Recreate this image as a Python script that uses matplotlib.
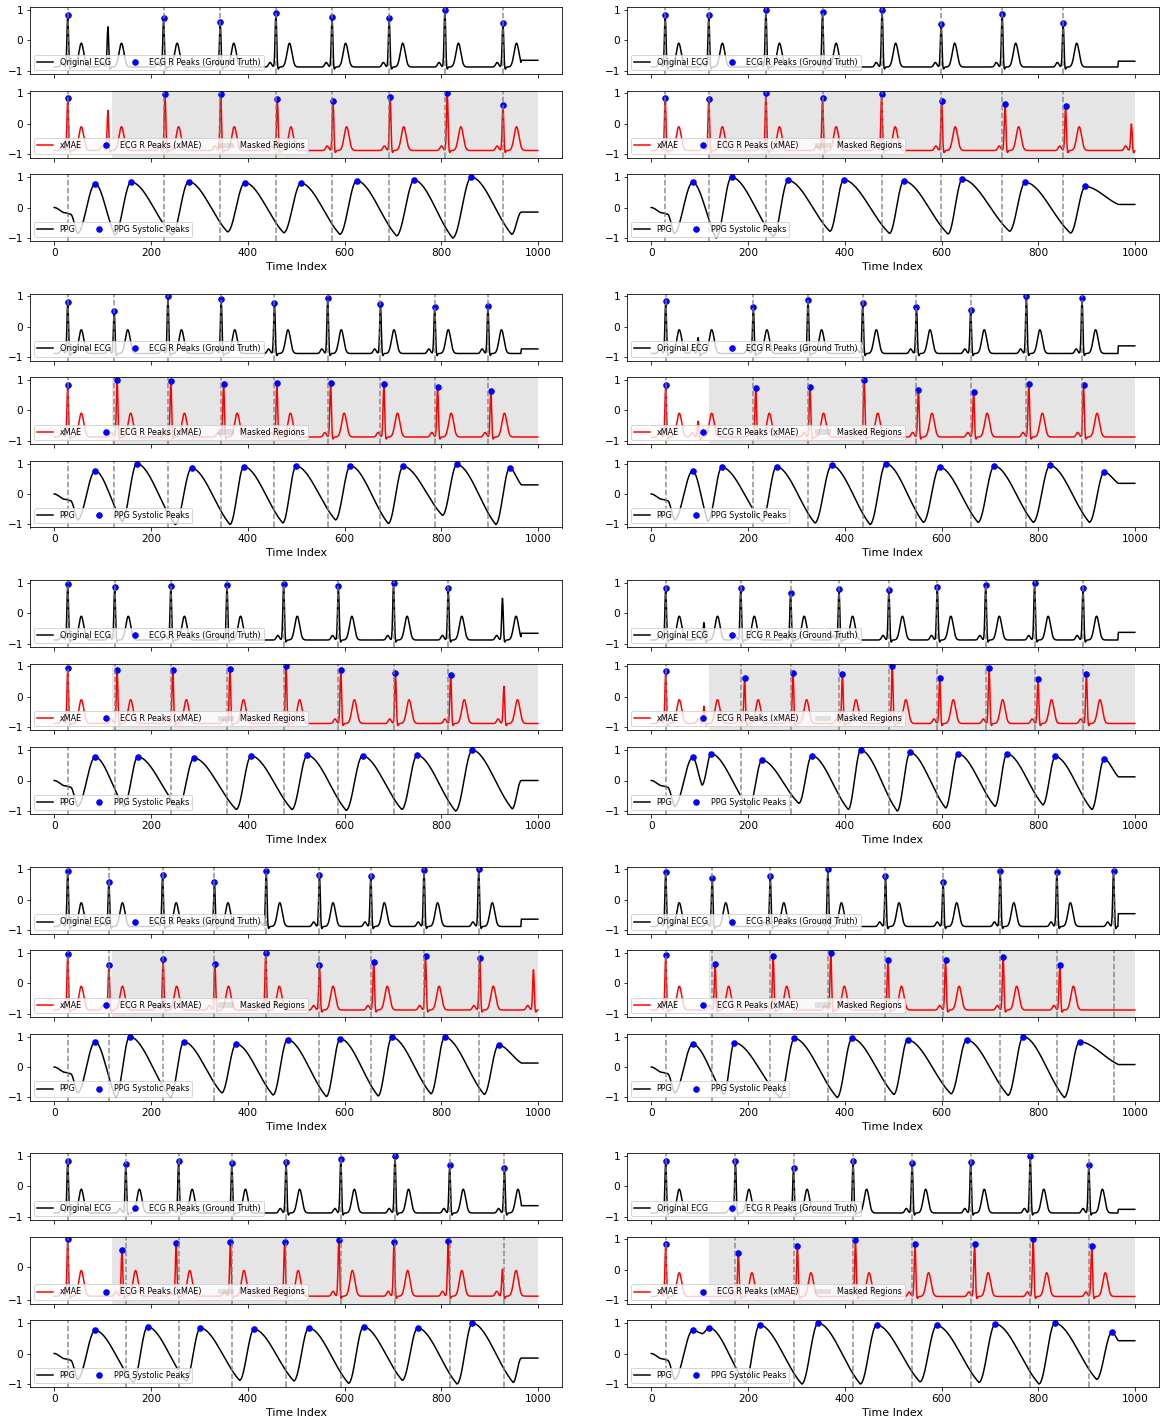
import numpy as np
import matplotlib.pyplot as plt

# blocks ordered row by row: left, right
ecg_gt_pos = [
    [28, 226, 343, 458, 574, 692, 807, 927],
    [29, 119, 237, 354, 477, 599, 725, 851],
    [28, 124, 235, 345, 455, 565, 674, 786, 896],
    [30, 211, 324, 437, 548, 660, 775, 890],
    [28, 125, 241, 357, 474, 587, 701, 814],
    [30, 185, 288, 388, 491, 591, 691, 792, 892],
    [28, 113, 224, 331, 438, 548, 654, 764, 877],
    [30, 126, 246, 365, 484, 603, 721, 838, 955],
    [28, 148, 257, 367, 479, 592, 704, 817, 930],
    [30, 174, 294, 417, 539, 660, 783, 904],
]
ecg_gt_h = [
    [0.85, 0.73, 0.59, 0.90, 0.76, 0.72, 1.0, 0.58],
    [0.85, 0.82, 1.0, 0.92, 1.0, 0.53, 0.88, 0.56],
    [0.83, 0.52, 1.0, 0.92, 0.78, 0.94, 0.74, 0.65, 0.70],
    [0.84, 0.67, 0.90, 0.77, 0.65, 0.54, 1.0, 0.95],
    [0.96, 0.86, 0.89, 0.92, 0.97, 0.90, 1.0, 0.82],
    [0.85, 0.85, 0.68, 0.80, 0.76, 0.86, 0.94, 1.0, 0.84],
    [0.95, 0.60, 0.83, 0.60, 0.96, 0.83, 0.80, 0.98, 1.0],
    [0.92, 0.73, 0.77, 1.0, 0.78, 0.60, 0.95, 0.93, 0.95],
    [0.84, 0.72, 0.82, 0.76, 0.80, 0.90, 1.0, 0.70, 0.59],
    [0.84, 0.84, 0.60, 0.84, 0.78, 0.80, 1.0, 0.70],
]
# beats in the ECG that have no R peak marker
ecg_extra_pos = [[111], [], [], [97], [926], [109], [], [], [], []]
ecg_extra_h = [[0.45], [], [], [-0.35], [0.5], [-0.3], [], [], [], []]
ecg_end = [-0.65, -0.68, -0.72, -0.62, -0.65, -0.62, -0.63, -0.45, -0.63, -0.75]

xmae_pos = [
    [28, 229, 344, 461, 576, 694, 812, 927],
    [29, 119, 237, 354, 476, 600, 731, 856],
    [28, 130, 241, 350, 460, 571, 681, 792, 902],
    [30, 216, 328, 440, 552, 666, 780, 893],
    [28, 130, 245, 363, 479, 592, 705, 819],
    [30, 193, 293, 395, 498, 596, 698, 799, 899],
    [28, 113, 225, 332, 437, 548, 660, 767, 879],
    [30, 132, 252, 371, 489, 608, 727, 844],
    [28, 140, 252, 364, 476, 588, 702, 814],
    [30, 180, 302, 422, 545, 668, 789, 910],
]
xmae_h = [
    [0.85, 0.97, 0.97, 0.82, 0.74, 0.87, 1.0, 0.62],
    [0.85, 0.82, 1.0, 0.85, 0.98, 0.76, 0.67, 0.58],
    [0.84, 1.0, 0.97, 0.87, 0.91, 0.90, 0.87, 0.77, 0.64],
    [0.84, 0.73, 0.77, 1.0, 0.68, 0.62, 0.88, 0.85],
    [0.96, 0.88, 0.88, 0.93, 1.0, 0.87, 0.78, 0.73],
    [0.86, 0.61, 0.77, 0.76, 1.0, 0.61, 0.94, 0.58, 0.74],
    [0.95, 0.60, 0.79, 0.65, 1.0, 0.61, 0.71, 0.91, 0.85],
    [0.92, 0.64, 0.91, 1.0, 0.77, 0.76, 0.88, 0.59],
    [0.85, 0.54, 0.74, 0.76, 0.78, 0.82, 0.78, 0.80],
    [0.84, 0.56, 0.79, 0.97, 0.84, 0.86, 1.0, 0.77],
]
xmae_extra_pos = [[111], [992], [], [97], [929], [109], [990], [], [926], []]
xmae_extra_h = [[0.45], [0.0], [], [-0.35], [0.35], [-0.3], [0.45], [], [-0.05], []]
mask_start, mask_end = 120, 1000

ppg_pos = [
    [85, 159, 278, 394, 510, 625, 744, 862],
    [86, 166, 283, 398, 522, 643, 773, 897],
    [85, 171, 284, 392, 500, 612, 721, 832, 941],
    [86, 146, 259, 373, 485, 596, 709, 824, 936],
    [85, 173, 289, 407, 523, 637, 750, 864],
    [86, 124, 229, 332, 433, 535, 634, 735, 835, 936],
    [85, 156, 268, 376, 482, 591, 698, 807, 918],
    [86, 172, 296, 415, 530, 652, 769, 885],
    [85, 193, 302, 413, 526, 639, 751, 864],
    [86, 120, 224, 345, 466, 590, 711, 834, 952],
]
ppg_h = [
    [0.78, 0.84, 0.85, 0.82, 0.80, 0.88, 0.90, 1.0],
    [0.83, 1.0, 0.89, 0.91, 0.87, 0.93, 0.83, 0.69],
    [0.76, 1.0, 0.85, 0.90, 0.92, 0.93, 0.91, 0.97, 0.85],
    [0.76, 0.88, 0.90, 0.94, 1.0, 0.88, 0.92, 0.94, 0.72],
    [0.77, 0.78, 0.74, 0.81, 0.83, 0.81, 0.83, 1.0],
    [0.76, 0.88, 0.67, 0.82, 1.0, 0.92, 0.88, 0.88, 0.79, 0.70],
    [0.83, 1.0, 0.83, 0.76, 0.90, 0.93, 0.98, 0.98, 0.72],
    [0.75, 0.80, 0.94, 0.94, 0.89, 0.89, 1.0, 0.83],
    [0.76, 0.88, 0.84, 0.80, 0.84, 0.88, 0.84, 1.0],
    [0.76, 0.85, 0.94, 1.0, 0.94, 0.92, 0.97, 1.0, 0.70],
]
ppg_trough_pos = [
    [48, 125, 243, 358, 474, 590, 707, 823, 945],
    [47, 134, 252, 369, 492, 613, 740, 866],
    [48, 140, 250, 363, 472, 581, 690, 802, 912],
    [48, 117, 229, 338, 452, 562, 675, 789, 905],
    [48, 144, 256, 376, 491, 603, 718, 829, 946],
    [48, 105, 202, 305, 407, 508, 608, 710, 809, 910],
    [48, 127, 240, 346, 452, 562, 669, 778, 888],
    [48, 150, 266, 384, 501, 619, 737, 853],
    [48, 163, 272, 383, 495, 608, 719, 832, 948],
    [48, 105, 194, 311, 432, 555, 677, 801, 920],
]
ppg_trough_val = [
    [-0.85, -0.9, -0.9, -0.8, -0.83, -0.88, -0.93, -1.0, -0.88],
    [-0.85, -1.0, -0.95, -0.78, -0.85, -0.87, -0.78, -0.84],
    [-0.85, -0.9, -1.0, -1.0, -0.95, -0.85, -0.97, -0.7, -1.0],
    [-0.85, -0.9, -0.9, -0.95, -1.0, -0.93, -0.93, -0.93, -0.93],
    [-0.85, -0.85, -0.9, -0.95, -0.95, -0.98, -0.95, -1.0, -0.93],
    [-0.85, -0.15, -0.9, -0.75, -0.95, -1.0, -0.9, -0.85, -0.8, -0.95],
    [-0.85, -1.0, -1.0, -0.85, -0.92, -0.97, -0.95, -0.88, -0.9],
    [-0.85, -0.9, -1.0, -1.0, -0.9, -0.88, -0.93, -1.0],
    [-0.85, -0.95, -0.9, -0.88, -0.9, -0.98, -0.88, -1.0, -0.95],
    [-0.85, 0.65, -0.95, -1.0, -1.0, -0.93, -0.95, -1.0, -0.85],
]
ppg_end = [-0.15, 0.10, 0.30, 0.35, 0.0, 0.12, 0.13, 0.08, -0.15, 0.42]

t = np.arange(1000)


def ecg_wave(pos, h, end=None):
    base = -0.87
    y = np.full(len(t), base)
    for p, a in zip(pos, h):
        y += (a - base) * np.exp(-0.5 * ((t - p) / 1.6) ** 2)
        y -= 0.1 * np.exp(-0.5 * ((t - p - 4) / 1.5) ** 2)
        y += 0.78 * np.exp(-0.5 * ((t - p - 28) / 5.0) ** 2)
        y += 0.15 * np.exp(-0.5 * ((t - p + 12) / 3.0) ** 2)
    if end is not None:
        y[965:] = end
    return y


def ppg_wave(pk, pk_h, tr, tr_v, end):
    kx = np.array([0, 20, 34] + tr + pk + [965, 999], dtype=float)
    ky = np.array([0.0, -0.17, -0.22] + tr_v + pk_h + [end, end])
    o = np.argsort(kx)
    kx, ky = kx[o], ky[o]
    i = np.clip(np.searchsorted(kx, t, side='right') - 1, 0, len(kx) - 2)
    s = (t - kx[i]) / (kx[i + 1] - kx[i])
    rise = (1 - np.cos(np.pi * s)) / 2
    # slow, near linear fall after a systolic peak
    fall = 0.5 * s ** 1.6 + 0.5 * rise
    g = np.where(ky[i + 1] < ky[i], fall, rise)
    return ky[i] + (ky[i + 1] - ky[i]) * g


def set_y(ax, y):
    hi = max(y.max(), -1)
    lo = -1.0
    pad = 0.05 * (hi - lo)
    ax.set_yticks([v for v in (-1, 0, 1) if v <= hi + pad])
    ax.set_ylim(lo - pad, hi + pad)


W, H = 1160, 1419
fig = plt.figure(figsize=(W / 72, H / 72), dpi=72)

for b in range(10):
    row, col = divmod(b, 2)
    x0 = 30 if col == 0 else 627
    axs = []
    for k in range(3):
        top = 7 + 286.5 * row + 83.5 * k
        axs.append(fig.add_axes([x0 / W, 1 - (top + 67) / H, 532 / W, 67 / H]))
    ax1, ax2, ax3 = axs

    ecg = ecg_wave(ecg_gt_pos[b] + ecg_extra_pos[b], ecg_gt_h[b] + ecg_extra_h[b], ecg_end[b])
    xm = ecg_wave(xmae_pos[b] + xmae_extra_pos[b], xmae_h[b] + xmae_extra_h[b])
    ppg = ppg_wave(ppg_pos[b], ppg_h[b], ppg_trough_pos[b], ppg_trough_val[b], ppg_end[b])

    ax1.plot(t, ecg, color='black', label='Original ECG')
    ax1.plot(ecg_gt_pos[b], ecg_gt_h[b], 'o', color='blue', markersize=5.5,
             label='ECG R Peaks (Ground Truth)')

    ax2.plot(t, xm, color='red', label='xMAE')
    ax2.plot(xmae_pos[b], xmae_h[b], 'o', color='blue', markersize=5.5,
             label='ECG R Peaks (xMAE)')
    ax2.axvspan(mask_start, mask_end, color='gray', alpha=0.2, lw=0, label='Masked Regions')

    ax3.plot(t, ppg, color='black', label='PPG')
    ax3.plot(ppg_pos[b], ppg_h[b], 'o', color='blue', markersize=5.5,
             label='PPG Systolic Peaks')

    for ax, y, nc in [(ax1, ecg, 2), (ax2, xm, 3), (ax3, ppg, 2)]:
        for p in ecg_gt_pos[b]:
            ax.axvline(p, color='gray', linestyle='--', alpha=0.9)
        ax.set_xlim(-49.95, 1048.95)
        ax.set_xticks([0, 200, 400, 600, 800, 1000])
        ax.tick_params(labelsize=10.5)
        set_y(ax, y)
        ax.legend(loc='lower left', ncol=nc, fontsize=8)
    ax1.tick_params(labelbottom=False)
    ax2.tick_params(labelbottom=False)
    ax3.set_xlabel('Time Index', fontsize=11)

fig.savefig('out.png', dpi=72)
